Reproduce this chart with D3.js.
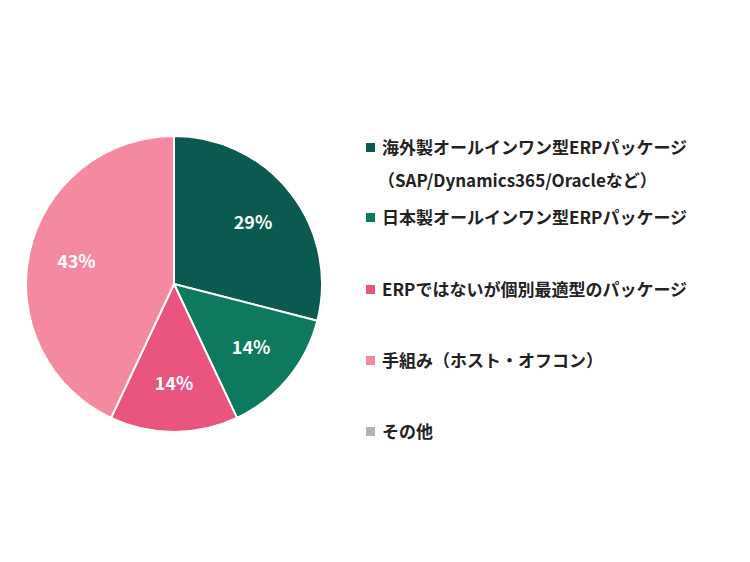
<!DOCTYPE html>
<html><head><meta charset="utf-8">
<script src="https://cdn.jsdelivr.net/npm/d3@7"></script>
<style>body{margin:0;background:#fff}</style>
</head><body>
<svg width="750" height="562"></svg>
<script>
var categories = [
  ["海外製オールインワン型ERPパッケージ", "（SAP/Dynamics365/Oracleなど）"],
  ["日本製オールインワン型ERPパッケージ"],
  ["ERPではないが個別最適型のパッケージ"],
  ["手組み（ホスト・オフコン）"],
  ["その他"]
];
var values = [29, 14, 14, 43, 0];
var colors = ["#0b5a4f", "#0d7a60", "#e9557f", "#f5899f", "#b3b3b3"];
var legendY = [148, 218, 290, 361, 432];

var svg = d3.select("svg");
var font = "'Noto Sans CJK JP', sans-serif";

var pie = d3.pie().sort(null).value(function(d){return d;});
var arc = d3.arc().innerRadius(0).outerRadius(148);
var labelArc = d3.arc().innerRadius(100).outerRadius(100);

var g = svg.append("g").attr("transform", "translate(174,284)");
var arcs = pie(values);

g.selectAll("path")
.data(arcs)
.enter()
.append("path")
.attr("d", arc)
.style("fill", function(d,i){return colors[i];})
.style("stroke", "#fff")
.style("stroke-width", "2px");

g.selectAll("text")
.data(arcs.filter(function(d){return d.value > 0;}))
.enter()
.append("text")
.attr("transform", function(d){return "translate(" + labelArc.centroid(d) + ")";})
.attr("text-anchor", "middle")
.attr("dy", "0.35em")
.style("font-family", font)
.style("font-weight", "bold")
.style("font-size", "18px")
.style("fill", "#fff")
.text(function(d){return d.value + "%";});

var lg = svg.selectAll("g.leg")
.data(categories)
.enter()
.append("g")
.attr("class", "leg")
.attr("transform", function(d,i){return "translate(366," + legendY[i] + ")";});

lg.append("rect")
.attr("x", 0).attr("y", -5)
.attr("width", 9).attr("height", 9)
.style("fill", function(d,i){return colors[i];});

lg.selectAll("text")
.data(function(d){return d;})
.enter()
.append("text")
.attr("x", function(d,j){return j === 0 ? 16 : 12;})
.attr("y", function(d,j){return j * 33;})
.attr("dy", "0.35em")
.style("font-family", font)
.style("font-weight", "bold")
.style("font-size", "17px")
.style("fill", "#222")
.text(function(d){return d;});
</script>
</body></html>
